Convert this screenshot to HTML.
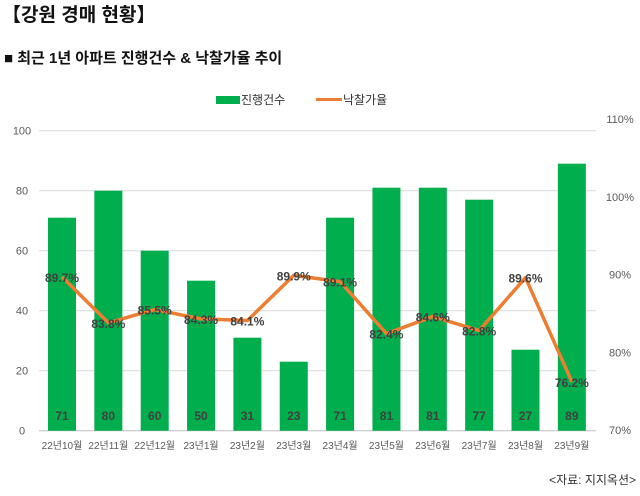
<!DOCTYPE html>
<html><head><meta charset="utf-8"><style>
body{margin:0;background:#fff;width:640px;height:491px;overflow:hidden;font-family:"Liberation Sans","Noto Sans CJK KR",sans-serif}
</style></head><body>
<svg width="640" height="491" xmlns="http://www.w3.org/2000/svg" font-family="Liberation Sans, Noto Sans CJK KR, sans-serif">
<text x="2" y="21" font-size="19" font-weight="bold" fill="#111">【강원 경매 현황】</text>
<text x="4" y="63" font-size="15" font-weight="bold" fill="#111">■ 최근 1년 아파트 진행건수 &amp; 낙찰가율 추이</text>
<rect x="216" y="96" width="24" height="8" fill="#00ae4d"/>
<text x="241" y="104" font-size="12" fill="#333">진행건수</text>
<rect x="316" y="98" width="26" height="3" fill="#ed7d31"/>
<text x="343" y="104" font-size="12" fill="#333">낙찰가율</text>
<g id="grid"></g><g id="bars"></g><g id="line"></g><g id="labels"></g>
<text x="636" y="484" font-size="12" fill="#333" text-anchor="end">&lt;자료: 지지옥션&gt;</text>
</svg>
<script>
const categories=["22년10월","22년11월","22년12월","23년1월","23년2월","23년3월","23년4월","23년5월","23년6월","23년7월","23년8월","23년9월"];
const counts=[71,80,60,50,31,23,71,81,81,77,27,89];
const rates=[89.7,83.8,85.5,84.3,84.1,89.9,89.1,82.4,84.6,82.8,89.6,76.2];
const leftTicks=[0,20,40,60,80,100];
const rightTicks=[70,80,90,100,110];
const NS="http://www.w3.org/2000/svg";
const x=i=>62+i*46.35;
const yL=v=>430.7-v*3.0;
const yR=v=>430-(v-70)*7.77;
function mk(tag,attrs,parent,txt){const e=document.createElementNS(NS,tag);for(const k in attrs)e.setAttribute(k,attrs[k]);if(txt!==undefined)e.textContent=txt;document.getElementById(parent).appendChild(e);return e;}
leftTicks.forEach(t=>{
 const l=mk('line',{x1:39,x2:596,y1:yL(t),y2:yL(t),stroke:t===0?'#bfbfbf':'#d9d9d9','stroke-width':1},'grid');
 
 
 const tx=mk('text',{x:22,y:yL(t)+4,'font-size':11,fill:'#595959','text-anchor':'middle'},'grid',String(t));
 
 
});
rightTicks.forEach(t=>{
 const tx=mk('text',{x:620,y:yR(t)+4,'font-size':11,fill:'#595959','text-anchor':'middle'},'grid',t+'%');
 
 
});
categories.forEach((c,i)=>{
 const b=mk('rect',{x:x(i)-14,y:yL(counts[i]),width:28,height:yL(0)-yL(counts[i]),fill:'#00ae4d'},'bars');
 
 
 const v=mk('text',{x:x(i),y:420,'font-size':12,'font-weight':'bold',fill:'#404040','text-anchor':'middle'},'labels',String(counts[i]));
 
 
 const cl=mk('text',{x:x(i),y:449,'font-size':10,fill:'#595959','text-anchor':'middle'},'labels',c);
 
 
});
const pts=rates.map((r,i)=>x(i)+','+yR(r)).join(' ');
const pl=mk('polyline',{points:pts,fill:'none',stroke:'#ed7d31','stroke-width':3.5,'stroke-linejoin':'round'},'line');


rates.forEach((r,i)=>{
 const t=mk('text',{x:x(i),y:yR(r)+5,'font-size':12,'font-weight':'bold',fill:'#404040','text-anchor':'middle'},'labels',r.toFixed(1)+'%');
 
 
});
</script>
</body></html>
